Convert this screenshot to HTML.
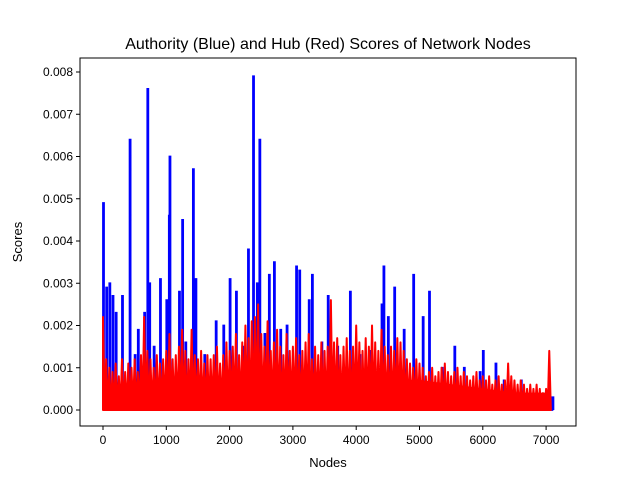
<!DOCTYPE html>
<html><head><meta charset="utf-8"><style>
body{margin:0;background:#fff}
svg text{font-family:"Liberation Sans","DejaVu Sans",sans-serif;fill:#000}
</style></head><body>
<svg id="chart" width="640" height="480">
<rect width="640" height="480" fill="#fff"/>
<text x="328" y="49" font-size="16" text-anchor="middle">Authority (Blue) and Hub (Red) Scores of Network Nodes</text>
<g id="blue"></g>
<g id="red"></g>
<rect x="80" y="58" width="496" height="368" fill="none" stroke="#000" stroke-width="1"/>
<g id="xt"></g>
<g id="yt"></g>
<text x="328" y="467" font-size="13" text-anchor="middle">Nodes</text>
<text x="22" y="242" font-size="13" text-anchor="middle" transform="rotate(-90 22 242)">Scores</text>
</svg>
<script>
const blueNodes=[0,50,100,150,200,300,420,500,550,650,700,730,800,900,1000,1040,1050,1200,1250,1300,1420,1460,1600,1780,1900,2000,2100,2200,2290,2370,2430,2470,2550,2620,2700,2800,2900,3050,3100,3250,3300,3450,3550,3700,3900,4050,4200,4400,4430,4500,4600,4750,4900,5050,5150,5350,5550,5700,5950,6000,6200,6330,6600,7100];
const blueVals=[0.0049,0.0029,0.0030,0.0027,0.0023,0.0027,0.0064,0.0013,0.0019,0.0023,0.0076,0.0030,0.0015,0.0031,0.0026,0.0046,0.0060,0.0028,0.0045,0.0016,0.0057,0.0031,0.0013,0.0021,0.0020,0.0031,0.0028,0.0015,0.0038,0.0079,0.0030,0.0064,0.0018,0.0032,0.0035,0.0019,0.0020,0.0034,0.0033,0.0026,0.0032,0.0016,0.0027,0.0015,0.0028,0.0013,0.0014,0.0025,0.0034,0.0022,0.0029,0.0019,0.0032,0.0022,0.0028,0.0010,0.0015,0.0010,0.0009,0.0014,0.0011,0.0007,0.0007,0.0003];
const redStep=50;
const redVals=[0.0022,0.0012,0.0010,0.0009,0.0011,0.0008,0.0012,0.0009,0.0011,0.0010,0.0012,0.0009,0.0013,0.0022,0.0014,0.0012,0.0010,0.0013,0.0011,0.0012,0.0014,0.0018,0.0012,0.0013,0.0015,0.0019,0.0014,0.0012,0.0019,0.0013,0.0012,0.0014,0.0011,0.0013,0.0012,0.0013,0.0015,0.0011,0.0013,0.0016,0.0014,0.0015,0.0018,0.0013,0.0016,0.0020,0.0017,0.0021,0.0022,0.0025,0.0018,0.0015,0.0021,0.0014,0.0016,0.0019,0.0015,0.0013,0.0018,0.0014,0.0015,0.0017,0.0013,0.0014,0.0016,0.0018,0.0012,0.0015,0.0013,0.0016,0.0014,0.0015,0.0026,0.0016,0.0017,0.0013,0.0015,0.0017,0.0014,0.0015,0.0020,0.0016,0.0014,0.0017,0.0015,0.0020,0.0016,0.0014,0.0019,0.0015,0.0013,0.0015,0.0014,0.0017,0.0016,0.0014,0.0012,0.0011,0.0010,0.0012,0.0011,0.0010,0.0008,0.0009,0.0010,0.0008,0.0009,0.0010,0.0011,0.0009,0.0008,0.0009,0.0010,0.0008,0.0009,0.0008,0.0007,0.0008,0.0009,0.0007,0.0008,0.0007,0.0008,0.0006,0.0007,0.0008,0.0006,0.0007,0.0011,0.0008,0.0007,0.0006,0.0007,0.0006,0.0005,0.0006,0.0005,0.0006,0.0005,0.0004,0.0005,0.0014];
const floorStep=500;
const redFloor=[0.0004,0.0004,0.0005,0.0006,0.0007,0.0008,0.0008,0.0007,0.0007,0.0007,0.0007,0.0006,0.0005,0.0004,0.0004,0.0003];
const xTicks=[0,1000,2000,3000,4000,5000,6000,7000];
const yTicks=[0,0.001,0.002,0.003,0.004,0.005,0.006,0.007,0.008];
const yLabels=["0.000","0.001","0.002","0.003","0.004","0.005","0.006","0.007","0.008"];
const NS="http://www.w3.org/2000/svg";
const X=n=>103+n*0.0633;
const Y=v=>410-v*42250;
function mk(t,a,p){const e=document.createElementNS(NS,t);for(const k in a)e.setAttribute(k,a[k]);p.appendChild(e);return e;}
let bp="M"+X(0)+","+Y(0);
blueNodes.forEach((n,i)=>{bp+=" L"+X(n)+","+Y(0)+" L"+X(n)+","+Y(blueVals[i])+" L"+(X(n)+1)+","+Y(blueVals[i])+" L"+(X(n)+1)+","+Y(0);});
const b=mk("path",{d:bp,fill:"none",stroke:"#0000ff","stroke-width":"1.8"},document.getElementById("blue"));


const redG=document.getElementById("red");
const lastNode=(redVals.length-1)*redStep;
let fp="M"+X(0)+","+Y(0);
redFloor.forEach((v,i)=>{fp+=" L"+X(Math.min(i*floorStep,lastNode))+","+Y(v);});
fp+=" L"+X(lastNode)+","+Y(0)+" Z";
const f=mk("path",{d:fp,fill:"#ff0000",stroke:"#ff0000","stroke-width":"1"},redG);


let rp="M"+X(0)+","+Y(0);
redVals.forEach((v,i)=>{const n=i*redStep;rp+=" L"+X(n)+","+Y(v)+" L"+X(n+redStep*0.5)+","+Y(0);});
rp+=" Z";
const r=mk("path",{d:rp,fill:"#ff0000",stroke:"#ff0000","stroke-width":"2","stroke-linejoin":"round"},redG);


const xt=document.getElementById("xt");
xTicks.forEach(t=>{mk("line",{x1:X(t),x2:X(t),y1:426,y2:430,stroke:"#000"},xt);
const tx=mk("text",{x:X(t),y:444,"font-size":"12","text-anchor":"middle"},xt);tx.textContent=t;

});
const yt=document.getElementById("yt");
yTicks.forEach((t,i)=>{mk("line",{x1:76,x2:80,y1:Y(t),y2:Y(t),stroke:"#000"},yt);
const tx=mk("text",{x:73,y:Y(t)+4,"font-size":"12","text-anchor":"end"},yt);tx.textContent=yLabels[i];

});
</script>
</body></html>
